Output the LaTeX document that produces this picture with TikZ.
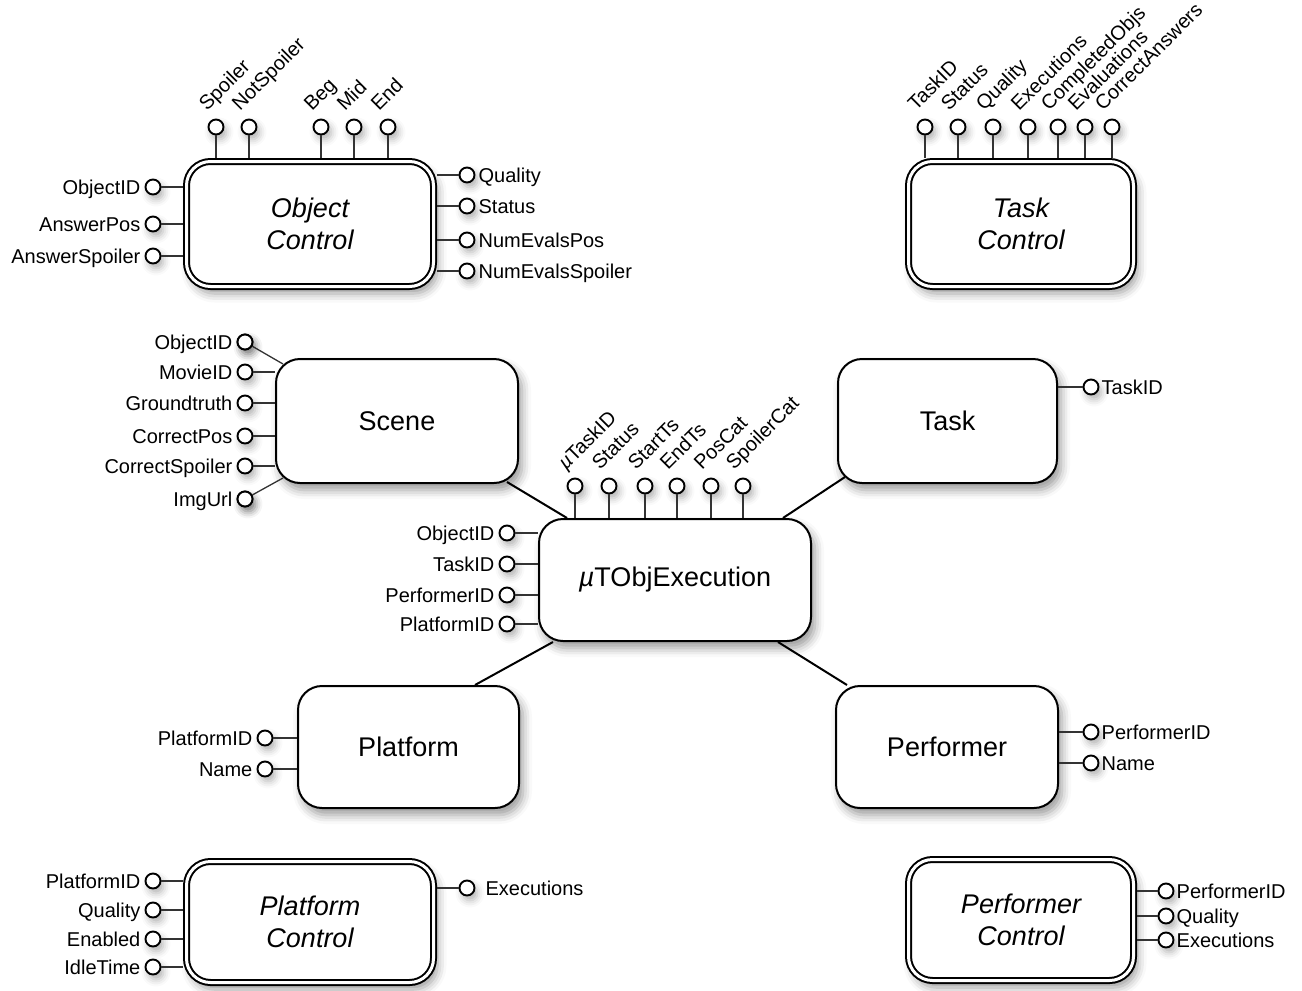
\documentclass[tikz,border=0pt]{standalone}
\usepackage{fontspec}
\setmainfont{Liberation Sans}
\usetikzlibrary{shadows.blur,calc}
\tikzset{
  lbl/.style={font=\fontsize{20}{20}\selectfont, inner sep=0pt},
  entity/.style={draw, line width=2pt, rounded corners=24pt, fill=white,
    font=\fontsize{27}{32}\selectfont, align=center, inner sep=0pt, outer sep=1pt,
    blur shadow={shadow xshift=4pt, shadow yshift=-7pt, shadow blur radius=9pt, shadow opacity=40}},
  ctrl/.style={entity, double=white, double distance=3pt, outer sep=3.5pt,
    font=\fontsize{27}{32}\selectfont\itshape},
  port/.style={circle, draw, line width=1.9pt, fill=white, minimum size=15pt, inner sep=0pt,
    blur shadow={shadow xshift=3pt, shadow yshift=-5pt, shadow blur radius=7pt, shadow opacity=30}},
  wire/.style={line width=1.3pt, draw=black!80},
  link/.style={line width=2pt, draw=black},
}
\begin{document}
\begin{tikzpicture}[x=1pt,y=-1pt]
\useasboundingbox (0,0) rectangle (1302,991);

% ---------- main nodes ----------
\node[ctrl, minimum width=247pt, minimum height=125pt] (oc) at (310,224) {Object\\Control};
\node[ctrl, minimum width=225pt, minimum height=125pt] (tc) at (1021,224) {Task\\Control};
\node[entity, minimum width=242pt, minimum height=124pt] (sc) at (397,421) {Scene};
\node[entity, minimum width=219pt, minimum height=124pt] (tk) at (947.5,421) {Task};
\node[entity, minimum width=272pt, minimum height=122pt] (mu) at (675,580) {\textit{µ}TObjExecution};
\node[entity, minimum width=221pt, minimum height=122pt] (pf) at (408.5,747) {Platform};
\node[entity, minimum width=222pt, minimum height=122pt] (pe) at (947,747) {Performer};
\node[ctrl, minimum width=247pt, minimum height=121pt] (pc) at (310,922) {Platform\\Control};
\node[ctrl, minimum width=225pt, minimum height=121pt] (qc) at (1021,920) {Performer\\Control};

% ---------- links ----------
\coordinate (l1a) at ($(sc.south east)+(-12,-2)$);
\coordinate (l1b) at ($(mu.north west)+(29,0)$);
\draw[link] (l1a) -- (l1b);
\coordinate (l2a) at ($(tk.south west)+(8,-7)$);
\coordinate (l2b) at ($(mu.north east)+(-29,0)$);
\draw[link] (l2a) -- (l2b);
\coordinate (l3a) at ($(mu.south west)+(15,0)$);
\coordinate (l3b) at ($(pf.north east)+(-45,0)$);
\draw[link] (l3a) -- (l3b);
\coordinate (l4a) at ($(mu.south east)+(-34,0)$);
\coordinate (l4b) at ($(pe.north west)+(12,0)$);
\draw[link] (l4a) -- (l4b);

% ---------- Object Control ports ----------
\foreach \n/\x/\t in {1/216/Spoiler,2/249/NotSpoiler,3/321/Beg,4/354/Mid,5/388/End}{
  \node[port] (oct\n) at (\x,127) {};
  \node[lbl, rotate=45, anchor=base west] (octl\n) at ($(oct\n)+(-9,-15)$) {\t};
  \draw[wire] (oct\n.south) -- (oct\n.south |- oc.north);
}
\foreach \n/\y/\t in {1/187/ObjectID,2/224/AnswerPos,3/256/AnswerSpoiler}{
  \node[port] (ocl\n) at (153,\y) {};
  \node[lbl, anchor=base east] (ocll\n) at ($(ocl\n.west)+(-4,7)$) {\t};
  \draw[wire] (ocl\n.east) -- (ocl\n.east -| oc.west);
}
\foreach \n/\y/\t in {1/175/Quality,2/206/Status,3/240/NumEvalsPos,4/271/NumEvalsSpoiler}{
  \node[port] (ocr\n) at (467,\y) {};
  \node[lbl, anchor=base west] (ocrl\n) at ($(ocr\n.east)+(3,7)$) {\t};
  \draw[wire] (ocr\n.west) -- (ocr\n.west -| oc.east);
}

% ---------- Task Control ports ----------
\foreach \n/\x/\t in {1/925/TaskID,2/958/Status,3/993/Quality,4/1028/Executions,5/1058/CompletedObjs,6/1085/Evaluations,7/1112/CorrectAnswers}{
  \node[port] (tct\n) at (\x,127) {};
  \node[lbl, rotate=45, anchor=base west] (tctl\n) at ($(tct\n)+(-9,-15)$) {\t};
  \draw[wire] (tct\n.south) -- (tct\n.south |- tc.north);
}

% ---------- Scene ports ----------
\foreach \n/\y/\t in {1/342/ObjectID,2/372/MovieID,3/403/Groundtruth,4/436/CorrectPos,5/466/CorrectSpoiler,6/499/ImgUrl}{
  \node[port] (scl\n) at (245,\y) {};
  \node[lbl, anchor=base east] (scll\n) at ($(scl\n.west)+(-4,7)$) {\t};
}
\coordinate (scc1) at ($(sc.north west)+(8,6)$);
\coordinate (scc6) at ($(sc.south west)+(8,-6)$);
\draw[wire] (scl1) -- (scc1);
\foreach \n in {2,3,4,5}{ \draw[wire] (scl\n.east) -- (scl\n.east -| sc.west); }
\draw[wire] (scl6) -- (scc6);
\node[port] (scl1b) at (scl1) {};
\node[port] (scl6b) at (scl6) {};

% ---------- Task ports ----------
\node[port] (tkr1) at (1091,387) {};
\node[lbl, anchor=base west] (tkrl1) at ($(tkr1.east)+(2,7)$) {TaskID};
\draw[wire] (tkr1.west) -- (tkr1.west -| tk.east);

% ---------- muTObjExecution ports ----------
\foreach \n/\x/\t in {1/575/{\textit{µ}TaskID},2/609/Status,3/645/StartTs,4/677/EndTs,5/711/PosCat,6/743/SpoilerCat}{
  \node[port] (mut\n) at (\x,486) {};
  \node[lbl, rotate=45, anchor=base west] (mutl\n) at ($(mut\n)+(-9,-15)$) {\t};
  \draw[wire] (mut\n.south) -- (mut\n.south |- mu.north);
}
\foreach \n/\y/\t in {1/533/ObjectID,2/564/TaskID,3/595/PerformerID,4/624/PlatformID}{
  \node[port] (mul\n) at (507,\y) {};
  \node[lbl, anchor=base east] (mull\n) at ($(mul\n.west)+(-4,7)$) {\t};
  \draw[wire] (mul\n.east) -- (mul\n.east -| mu.west);
}

% ---------- Platform ports ----------
\foreach \n/\y/\t in {1/738/PlatformID,2/769/Name}{
  \node[port] (pfl\n) at (265,\y) {};
  \node[lbl, anchor=base east] (pfll\n) at ($(pfl\n.west)+(-4,7)$) {\t};
  \draw[wire] (pfl\n.east) -- (pfl\n.east -| pf.west);
}

% ---------- Performer ports ----------
\foreach \n/\y/\t in {1/732/PerformerID,2/763/Name}{
  \node[port] (per\n) at (1091,\y) {};
  \node[lbl, anchor=base west] (perl\n) at ($(per\n.east)+(2,7)$) {\t};
  \draw[wire] (per\n.west) -- (per\n.west -| pe.east);
}

% ---------- Platform Control ports ----------
\foreach \n/\y/\t in {1/881/PlatformID,2/910/Quality,3/939/Enabled,4/967/IdleTime}{
  \node[port] (pcl\n) at (153,\y) {};
  \node[lbl, anchor=base east] (pcll\n) at ($(pcl\n.west)+(-4,7)$) {\t};
  \draw[wire] (pcl\n.east) -- (pcl\n.east -| pc.west);
}
\node[port] (pcr1) at (467,888) {};
\node[lbl, anchor=base west] (pcrl1) at ($(pcr1.east)+(10,7)$) {Executions};
\draw[wire] (pcr1.west) -- (pcr1.west -| pc.east);

% ---------- Performer Control ports ----------
\foreach \n/\y/\t in {1/891/PerformerID,2/916/Quality,3/940/Executions}{
  \node[port] (qcr\n) at (1166,\y) {};
  \node[lbl, anchor=base west] (qcrl\n) at ($(qcr\n.east)+(2,7)$) {\t};
  \draw[wire] (qcr\n.west) -- (qcr\n.west -| qc.east);
}
\end{tikzpicture}
\end{document}
